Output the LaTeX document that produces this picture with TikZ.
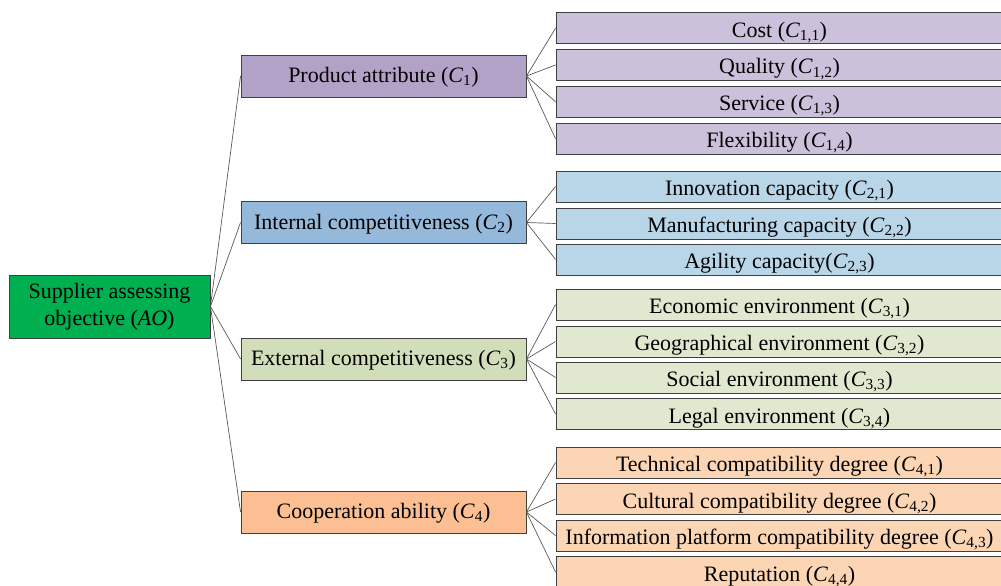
\documentclass[tikz,border=0pt]{standalone}
\usepackage{fontspec}
\setmainfont{Liberation Serif}
\begin{document}
\begin{tikzpicture}[x=1pt,y=-1pt,
  box/.style={draw=black!75, line width=0.9pt, inner sep=0pt, font=\fontsize{22}{27}\selectfont, align=center},
  rootbox/.style={box, fill=rootg, minimum width=201pt, minimum height=63pt},
  lone/.style={box, minimum width=285pt, minimum height=42pt, text height=16pt, text depth=3pt},
  leaf/.style={box, minimum width=447pt, minimum height=31pt, text height=19pt, text depth=1pt},
  conn/.style={draw=black!65, line width=0.7pt}]
\definecolor{rootg}{HTML}{00B050}
\definecolor{pA}{HTML}{B3A2C7}
\definecolor{pB}{HTML}{CCC1DA}
\definecolor{bA}{HTML}{95B9DB}
\definecolor{bB}{HTML}{B9D5E8}
\definecolor{gA}{HTML}{D2DEBA}
\definecolor{gB}{HTML}{E0E9D0}
\definecolor{oA}{HTML}{FBBF93}
\definecolor{oB}{HTML}{FCD5B5}
\useasboundingbox (0,0) rectangle (1001,586);
\newcommand{\Cs}[1]{(\textit{C}\textsubscript{#1})}
\node[rootbox] (ao) at (109.5,306.5) {Supplier assessing\\objective (\textit{AO})};
\node[lone, fill=pA] (c1) at (383.5,76) {Product attribute \Cs{1}};
\node[lone, fill=bA] (c2) at (383.5,222.5) {Internal competitiveness \Cs{2}};
\node[lone, fill=gA] (c3) at (383.5,359) {External competitiveness \Cs{3}};
\node[lone, fill=oA] (c4) at (383.5,512) {Cooperation ability \Cs{4}};
\node[leaf, fill=pB] (c11) at (779.5,28.2) {Cost \Cs{1,1}};
\node[leaf, fill=pB] (c12) at (779.5,65) {Quality \Cs{1,2}};
\node[leaf, fill=pB] (c13) at (779.5,101.8) {Service \Cs{1,3}};
\node[leaf, fill=pB] (c14) at (779.5,138.8) {Flexibility \Cs{1,4}};
\node[leaf, fill=bB] (c21) at (779.5,186.5) {Innovation capacity \Cs{2,1}};
\node[leaf, fill=bB] (c22) at (779.5,223.5) {Manufacturing capacity \Cs{2,2}};
\node[leaf, fill=bB] (c23) at (779.5,259.5) {Agility capacity\Cs{2,3}};
\node[leaf, fill=gB] (c31) at (779.5,304.5) {Economic environment \Cs{3,1}};
\node[leaf, fill=gB] (c32) at (779.5,341.5) {Geographical environment \Cs{3,2}};
\node[leaf, fill=gB] (c33) at (779.5,377.5) {Social environment \Cs{3,3}};
\node[leaf, fill=gB] (c34) at (779.5,414) {Legal environment \Cs{3,4}};
\node[leaf, fill=oB] (c41) at (779.5,462.5) {Technical compatibility degree \Cs{4,1}};
\node[leaf, fill=oB] (c42) at (779.5,499) {Cultural compatibility degree \Cs{4,2}};
\node[leaf, fill=oB] (c43) at (779.5,535.5) {Information platform compatibility degree \Cs{4,3}};
\node[leaf, fill=oB] (c44) at (779.5,572) {Reputation \Cs{4,4}};
\foreach \c in {c1,c2,c3,c4} \draw[conn] (ao.east) -- (\c.west);
\foreach \l in {c11,c12,c13,c14} \draw[conn] (c1.east) -- (\l.west);
\foreach \l in {c21,c22,c23} \draw[conn] (c2.east) -- (\l.west);
\foreach \l in {c31,c32,c33,c34} \draw[conn] (c3.east) -- (\l.west);
\foreach \l in {c41,c42,c43,c44} \draw[conn] (c4.east) -- (\l.west);
\end{tikzpicture}
\end{document}
